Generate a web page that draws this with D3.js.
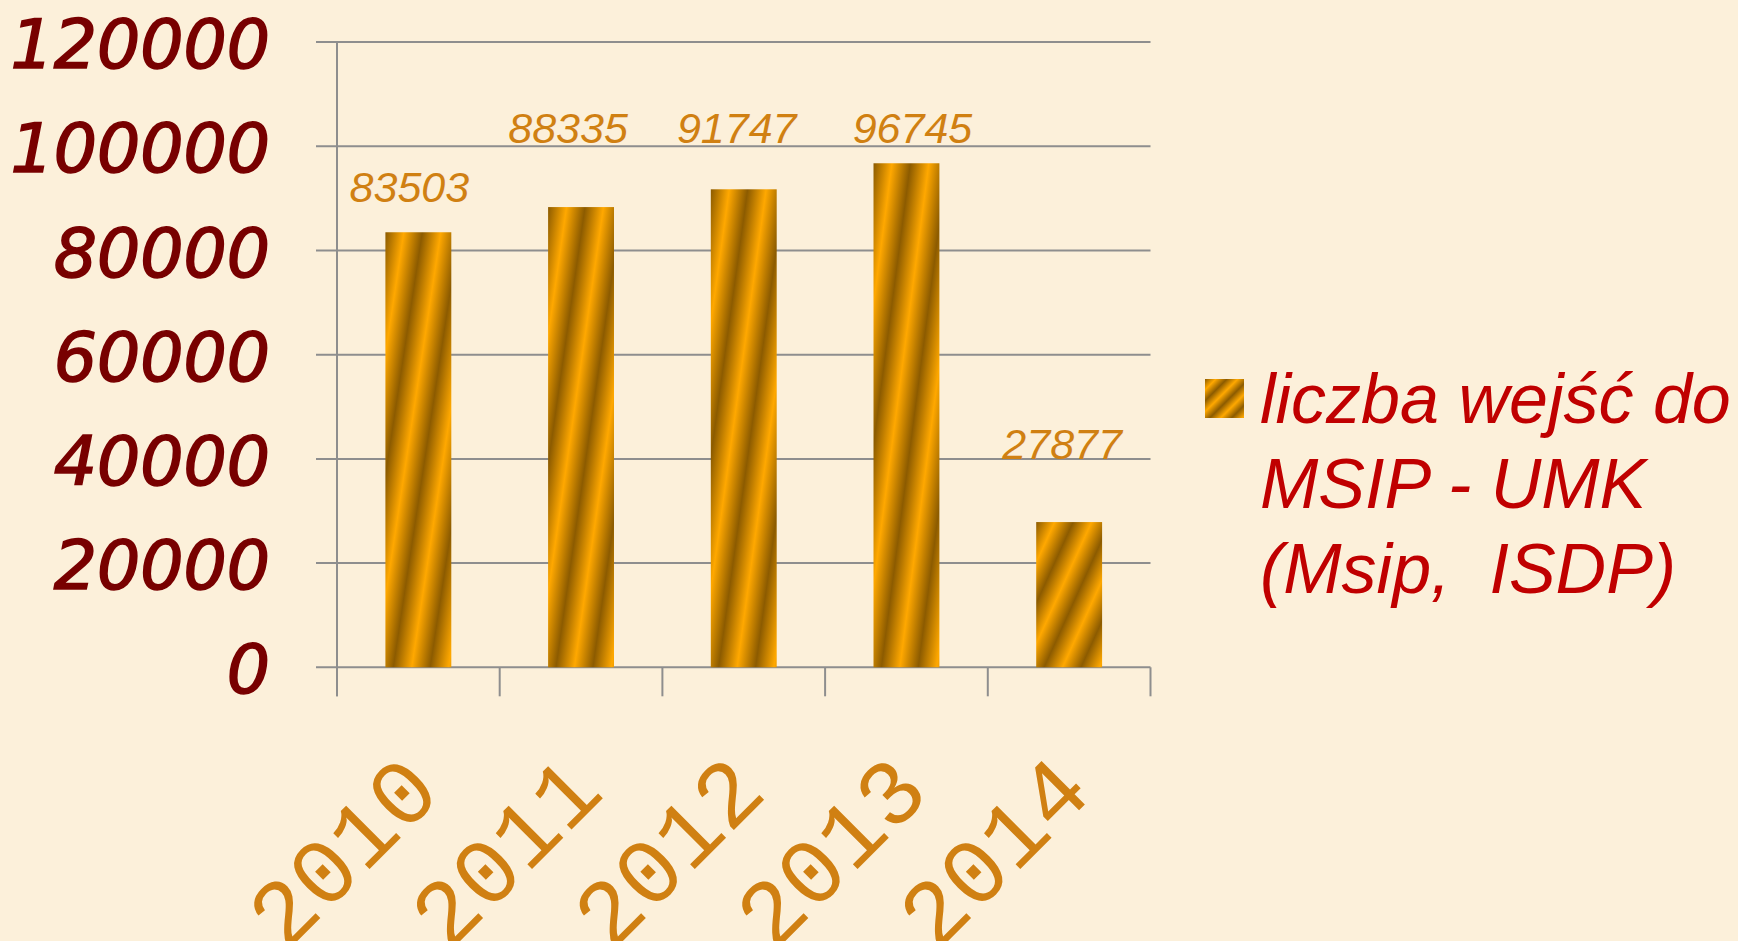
<!DOCTYPE html>
<html>
<head>
<meta charset="utf-8">
<script src="https://cdn.jsdelivr.net/npm/d3@7"></script>
<style>
  html, body { margin: 0; padding: 0; background: #FCF0DA; overflow: hidden; }
  svg { display: block; }
</style>
</head>
<body>
<script>
// ---- data ----
const categories = ["2010", "2011", "2012", "2013", "2014"];
const values = [83503, 88335, 91747, 96745, 27877];
const yTickValues = [0, 20000, 40000, 60000, 80000, 100000, 120000];
const legendLines = ["liczba wejść do", "MSIP - UMK", "(Msip,  ISDP)"];

// ---- layout (pixels, separate from data) ----
const W = 1738, H = 941;
const plot = { left: 337, right: 1150.5, top: 42.1, bottom: 667.3 };
const labelShift = [[-9, -30], [-13, -64], [-7, -46], [6, -20], [-7, -63]];

const svg = d3.select("body").append("svg").attr("width", W).attr("height", H);
svg.append("rect").attr("width", W).attr("height", H).attr("fill", "#FCF0DA");

const defs = svg.append("defs");
const grad = defs.append("linearGradient").attr("id", "gold")
  .attr("x1", 0).attr("y1", 0).attr("x2", 0.28).attr("y2", 0.28)
  .attr("spreadMethod", "repeat");
grad.append("stop").attr("offset", 0).attr("stop-color", "#8C5B00");
grad.append("stop").attr("offset", 0.5).attr("stop-color", "#FFA800");
grad.append("stop").attr("offset", 1).attr("stop-color", "#8C5B00");

const x = d3.scaleBand().domain(categories).range([plot.left, plot.right]).padding(0);
const y = d3.scaleLinear().domain([0, 120000]).range([plot.bottom, plot.top]);

const gridColor = "#8E8E8E";

// gridlines (with left tick stubs)
svg.append("g").selectAll("line").data(yTickValues).join("line")
  .attr("x1", plot.left - 21).attr("x2", plot.right)
  .attr("y1", d => y(d)).attr("y2", d => y(d))
  .attr("stroke", gridColor).attr("stroke-width", 2);

// y axis line
svg.append("line")
  .attr("x1", plot.left).attr("x2", plot.left)
  .attr("y1", plot.top).attr("y2", plot.bottom + 29)
  .attr("stroke", gridColor).attr("stroke-width", 2);

// x axis ticks at category boundaries
const boundaries = categories.map(c => x(c)).concat([x(categories[categories.length - 1]) + x.bandwidth()]);
svg.append("g").selectAll("line").data(boundaries).join("line")
  .attr("x1", d => d).attr("x2", d => d)
  .attr("y1", plot.bottom).attr("y2", plot.bottom + 29)
  .attr("stroke", gridColor).attr("stroke-width", 2);

// y tick labels
svg.append("g").selectAll("text").data(yTickValues).join("text")
  .attr("x", 270).attr("y", d => y(d) + 26)
  .attr("text-anchor", "end")
  .attr("font-family", "'DejaVu Sans', Verdana, sans-serif")
  .attr("font-style", "italic")
  .attr("font-size", 68)
  .attr("fill", "#780000")
  .attr("stroke", "#780000")
  .attr("stroke-width", 1.6)
  .text(d => d);

// bars
const barW = x.bandwidth() * 0.405;
svg.append("g").selectAll("rect").data(values).join("rect")
  .attr("x", (d, i) => x(categories[i]) + (x.bandwidth() - barW) / 2)
  .attr("width", barW)
  .attr("y", d => y(d))
  .attr("height", d => y(0) - y(d))
  .attr("fill", "url(#gold)");

// value labels
svg.append("g").selectAll("text").data(values).join("text")
  .attr("x", (d, i) => x(categories[i]) + x.bandwidth() / 2 + labelShift[i][0])
  .attr("y", (d, i) => y(d) + labelShift[i][1])
  .attr("text-anchor", "middle")
  .attr("font-family", "'Liberation Sans', Arial, sans-serif")
  .attr("font-style", "italic")
  .attr("font-size", 43)
  .attr("fill", "#D08012")
  .text(d => d);

// x labels rotated
svg.append("g").selectAll("text").data(categories).join("text")
  .attr("transform", d => `translate(${x(d) + x.bandwidth() / 2 + 25},795) rotate(-45)`)
  .attr("text-anchor", "end")
  .attr("font-family", "'Liberation Mono', 'Courier New', monospace")
  .attr("font-size", 93)
  .attr("fill", "#D08012")
  .text(d => d);

// legend
svg.append("rect").attr("x", 1205).attr("y", 379).attr("width", 39).attr("height", 39)
  .attr("fill", "url(#gold)");
svg.append("g").selectAll("text").data(legendLines).join("text")
  .attr("x", 1260).attr("y", (d, i) => 423 + i * 85)
  .attr("font-family", "'Liberation Sans', Arial, sans-serif")
  .attr("font-style", "italic")
  .attr("font-size", 70)
  .attr("fill", "#C00000")
  .style("white-space", "pre")
  .text(d => d);
</script>
</body>
</html>
